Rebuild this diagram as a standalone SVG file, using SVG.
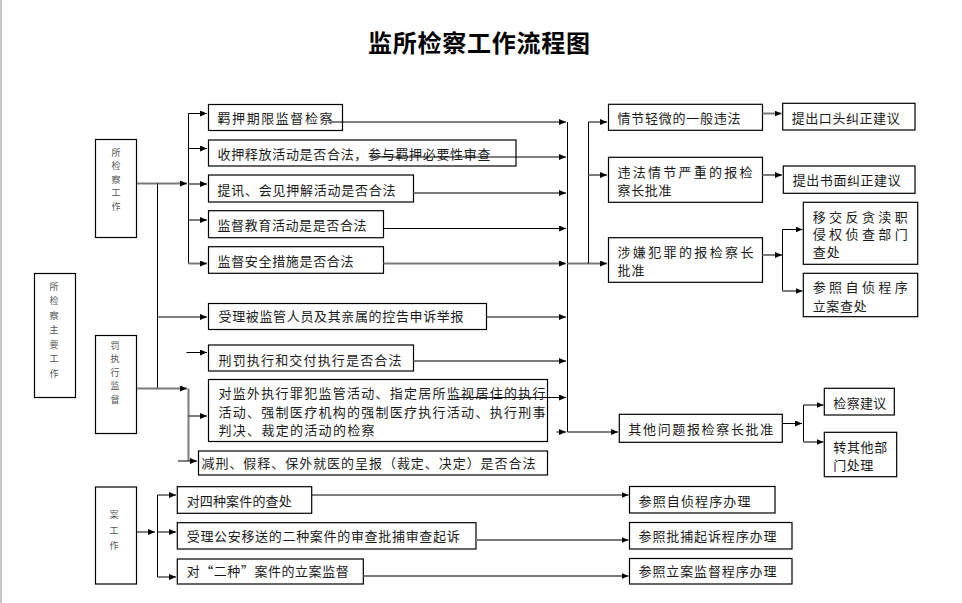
<svg xmlns="http://www.w3.org/2000/svg" width="962" height="603" viewBox="0 0 962 603">
<style>
.box{fill:#fff;stroke:#000;stroke-width:1.2}
.t{font-family:"Noto Sans CJK SC","Noto Sans CJK JP",sans-serif;font-size:13px;fill:#1a1a1a}
.v{font-family:"Noto Sans CJK SC","Noto Sans CJK JP",sans-serif;font-size:9px;fill:#555}
.title{font-family:"Noto Sans CJK SC","Noto Sans CJK JP",sans-serif;font-size:24px;font-weight:bold;fill:#000}
.c{fill:none;stroke:#000;stroke-width:1}
.g{fill:none;stroke:#7a7a7a;stroke-width:2}
.a{marker-end:url(#ah)}
</style>
<defs>
<marker id="ah" markerUnits="userSpaceOnUse" markerWidth="7" markerHeight="6" refX="7" refY="3" orient="auto">
<path d="M0,0 L7,3 L0,6 z" fill="#000"/>
</marker>
</defs>
<rect x="0" y="0" width="962" height="603" fill="#fff"/>
<line x1="1" y1="0" x2="1" y2="603" stroke="#c8c8c8" stroke-width="2"/>

<g id="title"><text class="title" x="479" y="52" text-anchor="middle" textLength="222" lengthAdjust="spacing">监所检察工作流程图</text></g>

<g id="n_a"><rect class="box" x="95.5" y="139.5" width="41" height="98"/>
<text class="v" text-anchor="middle"><tspan x="116" y="155.5">所</tspan><tspan x="116" y="169">检</tspan><tspan x="116" y="182.5">察</tspan><tspan x="116" y="196">工</tspan><tspan x="116" y="209.5">作</tspan></text></g>
<g id="n_main"><rect class="box" x="34.5" y="273.5" width="41" height="124"/>
<text class="v" text-anchor="middle"><tspan x="54" y="289.5">所</tspan><tspan x="54" y="304">检</tspan><tspan x="54" y="318.5">察</tspan><tspan x="54" y="333">主</tspan><tspan x="54" y="347.5">要</tspan><tspan x="54" y="362">工</tspan><tspan x="54" y="376.5">作</tspan></text></g>
<g id="n_b"><rect class="box" x="95.5" y="335.5" width="41" height="98"/>
<text class="v" text-anchor="middle"><tspan x="115" y="348.5">罚</tspan><tspan x="115" y="362">执</tspan><tspan x="115" y="375.5">行</tspan><tspan x="115" y="389">监</tspan><tspan x="115" y="402.5">督</tspan></text></g>
<g id="n_c"><rect class="box" x="95.5" y="487" width="41" height="97"/>
<text class="v" text-anchor="middle"><tspan x="114" y="518">案</tspan><tspan x="114" y="533.5">工</tspan><tspan x="114" y="549">作</tspan></text></g>

<g id="n1"><rect class="box" x="208.5" y="104.5" width="134" height="26"/><text class="t" x="217.5" y="122.5" textLength="115" lengthAdjust="spacing">羁押期限监督检察</text></g>
<g id="n2"><rect class="box" x="208.5" y="140" width="307.5" height="26"/><text class="t" x="217.5" y="159" textLength="273" lengthAdjust="spacing">收押释放活动是否合法，参与羁押必要性审查</text></g>
<g id="n3"><rect class="box" x="208.5" y="175" width="205" height="27"/><text class="t" x="217.5" y="195" textLength="178" lengthAdjust="spacing">提讯、会见押解活动是否合法</text></g>
<g id="n4"><rect class="box" x="208.5" y="210.7" width="175" height="27"/><text class="t" x="217.5" y="230" textLength="149" lengthAdjust="spacing">监督教育活动是是否合法</text></g>
<g id="n5"><rect class="box" x="208.5" y="246.7" width="175" height="26.6"/><text class="t" x="217.5" y="265.5" textLength="136" lengthAdjust="spacing">监督安全措施是否合法</text></g>
<g id="n6"><rect class="box" x="208.5" y="303.5" width="278" height="26"/><text class="t" x="218.5" y="321" textLength="245" lengthAdjust="spacing">受理被监管人员及其亲属的控告申诉举报</text></g>
<g id="n7"><rect class="box" x="208.5" y="345" width="205" height="26"/><text class="t" x="218.5" y="365" textLength="183" lengthAdjust="spacing">刑罚执行和交付执行是否合法</text></g>
<g id="n8"><rect class="box" x="208.5" y="379.5" width="339" height="62"/>
<text class="t"><tspan x="218.5" y="398" textLength="327" lengthAdjust="spacing">对监外执行罪犯监管活动、指定居所监视居住的执行</tspan><tspan x="218.5" y="416.5" textLength="327" lengthAdjust="spacing">活动、强制医疗机构的强制医疗执行活动、执行刑事</tspan><tspan x="218.5" y="435" textLength="156" lengthAdjust="spacing">判决、裁定的活动的检察</tspan></text></g>
<g id="n9"><rect class="box" x="198.5" y="451" width="349" height="24"/><text class="t" x="201.5" y="467.5" textLength="334" lengthAdjust="spacing">减刑、假释、保外就医的呈报（裁定、决定）是否合法</text></g>

<g id="n10"><rect class="box" x="608.5" y="104.3" width="154" height="26"/><text class="t" x="617.5" y="122.5" textLength="123" lengthAdjust="spacing">情节轻微的一般违法</text></g>
<g id="n11"><rect class="box" x="608.5" y="157.3" width="154" height="45"/>
<text class="t"><tspan x="617.5" y="176.5" textLength="135" lengthAdjust="spacing">违法情节严重的报检</tspan><tspan x="617.5" y="194.5" textLength="54" lengthAdjust="spacing">察长批准</tspan></text></g>
<g id="n12"><rect class="box" x="608.5" y="237.7" width="154" height="44.6"/>
<text class="t"><tspan x="617.5" y="256.5" textLength="136" lengthAdjust="spacing">涉嫌犯罪的报检察长</tspan><tspan x="617.5" y="275" textLength="27" lengthAdjust="spacing">批准</tspan></text></g>
<g id="n13"><rect class="box" x="782.7" y="103.3" width="132.3" height="26.7"/><text class="t" x="791.7" y="122.5" textLength="108" lengthAdjust="spacing">提出口头纠正建议</text></g>
<g id="n14"><rect class="box" x="783.3" y="166" width="131.7" height="27.3"/><text class="t" x="792.7" y="185" textLength="108" lengthAdjust="spacing">提出书面纠正建议</text></g>
<g id="n15"><rect class="box" x="803.3" y="202.3" width="114.4" height="62"/>
<text class="t"><tspan x="812.7" y="221.5" textLength="95" lengthAdjust="spacing">移交反贪渎职</tspan><tspan x="812.7" y="239" textLength="95" lengthAdjust="spacing">侵权侦查部门</tspan><tspan x="812.7" y="256.5" textLength="27" lengthAdjust="spacing">查处</tspan></text></g>
<g id="n16"><rect class="box" x="803.3" y="273.3" width="114.4" height="43.4"/>
<text class="t"><tspan x="812.7" y="291.5" textLength="95" lengthAdjust="spacing">参照自侦程序</tspan><tspan x="812.7" y="310.5" textLength="54" lengthAdjust="spacing">立案查处</tspan></text></g>
<g id="n17"><rect class="box" x="619.3" y="414.3" width="163" height="28"/><text class="t" x="628.3" y="434" textLength="145" lengthAdjust="spacing">其他问题报检察长批准</text></g>
<g id="n18"><rect class="box" x="824.3" y="388.3" width="70" height="26.7"/><text class="t" x="833.3" y="407.5" textLength="53" lengthAdjust="spacing">检察建议</text></g>
<g id="n19"><rect class="box" x="824.3" y="432.3" width="72.4" height="44.4"/>
<text class="t"><tspan x="833.3" y="451.5" textLength="54" lengthAdjust="spacing">转其他部</tspan><tspan x="833.3" y="469.5" textLength="40" lengthAdjust="spacing">门处理</tspan></text></g>

<g id="n20"><rect class="box" x="177.3" y="486.7" width="134.4" height="26.6"/><text class="t" x="186.7" y="505.5" textLength="105" lengthAdjust="spacing">对四种案件的查处</text></g>
<g id="n21"><rect class="box" x="177.3" y="522.7" width="298.7" height="26.3"/><text class="t" x="186.7" y="541" textLength="273" lengthAdjust="spacing">受理公安移送的二种案件的审查批捕审查起诉</text></g>
<g id="n22"><rect class="box" x="177.3" y="559" width="186" height="25"/><text class="t" x="186.7" y="576" textLength="162" lengthAdjust="spacing">对“二种”案件的立案监督</text></g>
<g id="n23"><rect class="box" x="629.5" y="486.5" width="145.5" height="26.5"/><text class="t" x="638.5" y="505.5" textLength="112" lengthAdjust="spacing">参照自侦程序办理</text></g>
<g id="n24"><rect class="box" x="629.5" y="522.5" width="162.5" height="26.5"/><text class="t" x="638.5" y="541" textLength="138" lengthAdjust="spacing">参照批捕起诉程序办理</text></g>
<g id="n25"><rect class="box" x="629.5" y="558.5" width="162.5" height="25.5"/><text class="t" x="638.5" y="576" textLength="138" lengthAdjust="spacing">参照立案监督程序办理</text></g>

<g id="connectors">
<path class="g a" d="M137,183.5 H187"/>
<path class="c" d="M157.5,183.5 V388.5"/>
<path class="c a" d="M157.5,317 H207"/>
<path class="g a" d="M137,388.5 H187"/>
<path class="c" d="M188.5,113.5 V263.5"/>
<path class="c a" d="M188.5,113.5 H207"/>
<path class="c a" d="M188.5,148.5 H207"/>
<path class="g a" d="M188.5,184 H207"/>
<path class="c a" d="M188.5,220 H207"/>
<path class="g a" d="M188.5,263.5 H207"/>
<path class="c a" d="M186.5,352.5 H207"/>
<path class="g" d="M188.5,388.5 V461"/>
<path class="c a" d="M188.5,416 H207"/>
<path class="c a" d="M178,461 H197"/>

<path class="c a" d="M330,122 H566"/>
<path class="c a" d="M370,157 H566"/>
<path class="g a" d="M413.5,193 H566"/>
<path class="c a" d="M383.5,228.5 H566"/>
<path class="g a" d="M383.5,263.5 H566"/>
<path class="c a" d="M486.5,317 H566"/>
<path class="g a" d="M413.5,361 H566"/>
<path class="c a" d="M456.5,397.5 H566"/>
<path class="c a" d="M556.5,432 H566"/>
<path class="c" d="M567.5,122 V432"/>
<path class="c a" d="M567.5,432 H618"/>
<path class="g a" d="M567.5,263.5 H607"/>
<path class="c" d="M588.5,122 V263.5"/>
<path class="c a" d="M588.5,122 H607"/>
<path class="g a" d="M588.5,175 H607"/>

<path class="g a" d="M762.5,113.5 H781.5"/>
<path class="g a" d="M762.5,175 H782"/>
<path class="g a" d="M762.5,255 H782"/>
<path class="c" d="M782.5,229.5 V291"/>
<path class="c a" d="M782.5,229.5 H802.5"/>
<path class="g a" d="M782.5,291 H802.5"/>
<path class="c a" d="M782.5,423.5 H802"/>
<path class="c" d="M803.5,405 V442"/>
<path class="c a" d="M803.5,405 H823.5"/>
<path class="g a" d="M803.5,442 H823.5"/>

<path class="c a" d="M136.5,532 H155"/>
<path class="c" d="M157.5,495 V577"/>
<path class="c a" d="M157.5,495 H176"/>
<path class="c a" d="M157.5,532 H176"/>
<path class="c a" d="M157.5,577 H176"/>
<path class="c a" d="M311.5,495 H628.5"/>
<path class="g a" d="M476,540 H628.5"/>
<path class="g a" d="M363.5,576 H628.5"/>
</g>
</svg>
